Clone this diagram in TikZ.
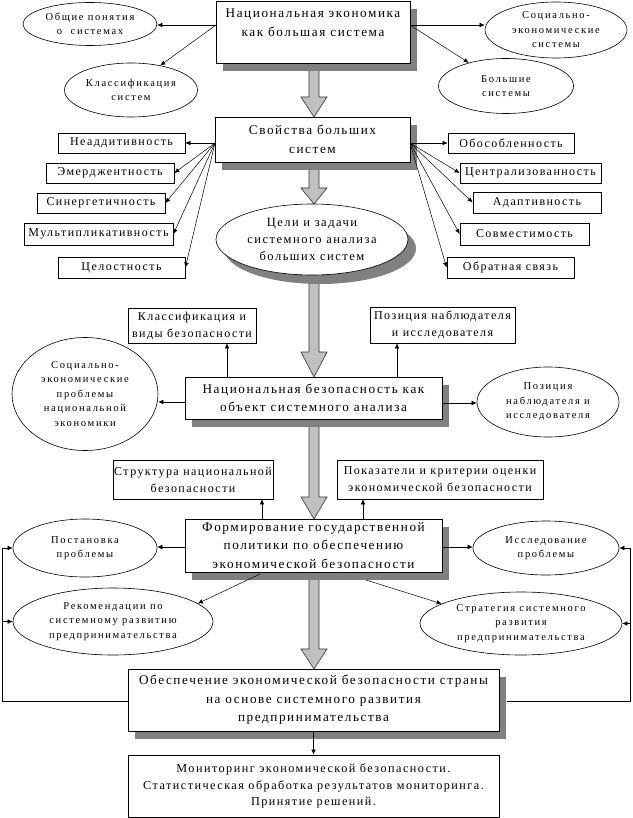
\documentclass[tikz,border=0pt]{standalone}
\usepackage{fontspec}
\setmainfont{Liberation Serif}[LetterSpace=12]
\newfontfamily\ovalfont{Liberation Serif}[LetterSpace=16]
\usetikzlibrary{shapes.geometric,shadows,arrows.meta}
\definecolor{shadowgray}{RGB}{128,128,128}
\definecolor{arrowgray}{RGB}{192,192,192}
% block arrow: x, shaft top, head start, tip
\newcommand\blockdown[4]{%
  \path[draw=black!80, fill=arrowgray, line width=0.6pt]
    (#1-5,#2) -- (#1-5,#3) -- (#1-13,#3) -- (#1,#4) -- (#1+13,#3) -- (#1+5,#3) -- (#1+5,#2) -- cycle;}
\tikzset{
  bigbox/.style={draw, fill=white, align=center, inner sep=1pt, line width=0.7pt,
    font=\fontsize{13.2}{18.5}\selectfont,
    drop shadow={shadow xshift=7pt, shadow yshift=-8pt, fill=shadowgray, opacity=1}},
  smallbox/.style={draw, fill=white, align=center, inner sep=1pt, line width=0.7pt,
    font=\fontsize{12}{17}\selectfont},
  oval/.style={draw, ellipse, fill=white, align=center, inner sep=0pt, line width=0.6pt,
    font=\ovalfont\fontsize{10.5}{14.5}\selectfont},
  arr/.style={-{Latex[length=5pt,width=4.5pt]}, line width=0.5pt},
}
\begin{document}
\begin{tikzpicture}[x=1pt, y=-1pt]
\useasboundingbox (0,0) rectangle (632,818);
% big arrows down the middle
\blockdown{314}{64}{97}{117}
\blockdown{314}{165}{188}{204}
\blockdown{314}{270}{352}{377}
\blockdown{314}{420}{497}{519}
\blockdown{314}{575}{649}{669}

% top level
\node[bigbox, minimum width=194, minimum height=62] (econ) at (313,32) {Национальная экономика\\как большая система\\~};
\node[oval, minimum width=134, minimum height=43] (general) at (90,24) {Общие понятия\\о~ системах};
\node[oval, minimum width=133, minimum height=54] (classsys) at (131,90) {Классификация\\систем};
\node[oval, minimum width=142, minimum height=56] (socsys) at (556,30) {Социально-\\экономические\\системы};
\node[oval, minimum width=135, minimum height=55] (largesys) at (506,86) {Большие\\системы};
\coordinate (ea) at (216,25);
\coordinate (eb) at (410,25);
\draw[arr] (ea) -- (ea -| general.east);
\draw[arr] (ea) -- (classsys.40);
\draw[arr] (eb) -- (eb -| socsys.west);
\draw[arr] (eb) -- (largesys.148);

% properties
\node[bigbox, minimum width=195, minimum height=45] (props) at (312.5,139.5) {Свойства больших\\систем};
\node[smallbox, minimum width=127, minimum height=20] (nonadd) at (121.5,143) {Неаддитивность};
\node[smallbox, minimum width=128, minimum height=20] (emerg) at (110,173) {Эмерджентность};
\node[smallbox, minimum width=128, minimum height=20] (synerg) at (101,203) {Синергетичность};
\node[smallbox, minimum width=149, minimum height=22] (multi) at (98.5,234) {Мультипликативность};
\node[smallbox, minimum width=127, minimum height=21] (integr) at (121.5,267.5) {Целостность};
\node[smallbox, minimum width=126, minimum height=20] (separ) at (511,143) {Обособленность};
\node[smallbox, minimum width=141, minimum height=20] (central) at (530.5,173) {Централизованность};
\node[smallbox, minimum width=128, minimum height=21] (adapt) at (537,202.5) {Адаптивность};
\node[smallbox, minimum width=129, minimum height=22] (compat) at (524.5,234) {Совместимость};
\node[smallbox, minimum width=127, minimum height=21] (feedb) at (510.5,267.5) {Обратная связь};
\coordinate (pa) at (215,143);
\coordinate (pb) at (410,143);
\foreach \n in {nonadd,emerg,synerg,multi,integr}
  \draw[arr] (pa) -- (\n.east);
\foreach \n in {separ,central,adapt,compat,feedb}
  \draw[arr] (pb) -- (\n.west);

% goals
\node[oval, font=\fontsize{12.5}{17}\selectfont, minimum width=192, minimum height=71,
  drop shadow={shadow xshift=8pt, shadow yshift=-9pt, fill=shadowgray, opacity=1}] (goals) at (312,239.5) {Цели и задачи\\системного анализа\\больших систем};

% national security
\node[bigbox, minimum width=257, minimum height=42] (natsec) at (313.5,398) {Национальная безопасность как\\объект системного анализа};
\node[smallbox, minimum width=128, minimum height=35] (kinds) at (192,325.5) {Классификация и\\виды безопасности};
\node[smallbox, minimum width=145, minimum height=36] (observ) at (442.5,325) {Позиция наблюдателя\\и исследователя};
\node[oval, minimum width=146, minimum height=113] (socprob) at (85,394) {Социально-\\экономические\\проблемы\\национальной\\экономики};
\node[oval, minimum width=142, minimum height=70] (observ2) at (548,402) {Позиция\\наблюдателя и\\исследователя};
\coordinate (na) at (227,377);
\coordinate (nb) at (397,377);
\coordinate (nw) at (185,402);
\coordinate (ne) at (442,403);
\draw[arr] (na) -- (na |- kinds.south);
\draw[arr] (nb) -- (nb |- observ.south);
\draw[arr] (nw) -- (nw -| socprob.east);
\draw[arr] (ne) -- (ne -| observ2.west);

% policy
\node[bigbox, minimum width=257, minimum height=53] (policy) at (313.5,545.5) {Формирование государственной\\политики по обеспечению\\экономической безопасности};
\node[smallbox, minimum width=160, minimum height=39] (struct) at (193,479.5) {Структура национальной\\безопасности};
\node[smallbox, minimum width=206, minimum height=39] (criter) at (440,479.5) {Показатели и критерии оценки\\экономической безопасности};
\node[oval, minimum width=144, minimum height=58] (setprob) at (85,548) {Постановка\\проблемы};
\node[oval, minimum width=146, minimum height=54] (research) at (546,548) {Исследование\\проблемы};
\node[oval, minimum width=200, minimum height=67] (recomm) at (113,621.5) {Рекомендации по\\системному развитию\\предпринимательства};
\node[oval, minimum width=202, minimum height=63] (strat) at (521,623.5) {Стратегия системного\\развития\\предпринимательства};
\coordinate (pca) at (262,519);
\coordinate (pcb) at (363,519);
\coordinate (pw) at (185,547);
\coordinate (pe) at (442,547);
\coordinate (ps) at (260,574);
\coordinate (pt) at (366,580);
\draw[arr] (pca) -- (pca |- struct.south);
\draw[arr] (pcb) -- (pcb |- criter.south);
\draw[arr] (pw) -- (pw -| setprob.east);
\draw[arr] (pe) -- (pe -| research.west);
\draw[arr] (ps) -- (recomm.12);
\draw[arr] (pt) -- (strat.166);

% result and monitoring
\node[bigbox, minimum width=371, minimum height=62] (ensure) at (313.5,700) {Обеспечение экономической безопасности страны\\на основе системного развития\\предпринимательства};
\node[smallbox, minimum width=371, minimum height=62, font=\fontsize{12.2}{16.5}\selectfont] (monitor) at (313.5,786) {Мониторинг экономической безопасности.\\Статистическая обработка результатов мониторинга.\\Принятие решений.};
\draw[arr] (ensure.south) -- (monitor.north);

% feedback lines
\coordinate (fl) at (2,701);
\coordinate (fr) at (630,701);
\draw[line width=0.6pt] (ensure.west |- fl) -- (fl) -- (fl |- setprob.west);
\draw[arr] (fl |- setprob.west) -- (setprob.west);
\draw[arr] (fl |- recomm.west) -- (recomm.west);
\draw[line width=0.6pt] ([xshift=8pt]ensure.east |- fr) -- (fr) -- (fr |- research.east);
\draw[arr] (fr |- research.east) -- (research.east);
\draw[arr] (fr |- strat.east) -- (strat.east);
\end{tikzpicture}
\end{document}
